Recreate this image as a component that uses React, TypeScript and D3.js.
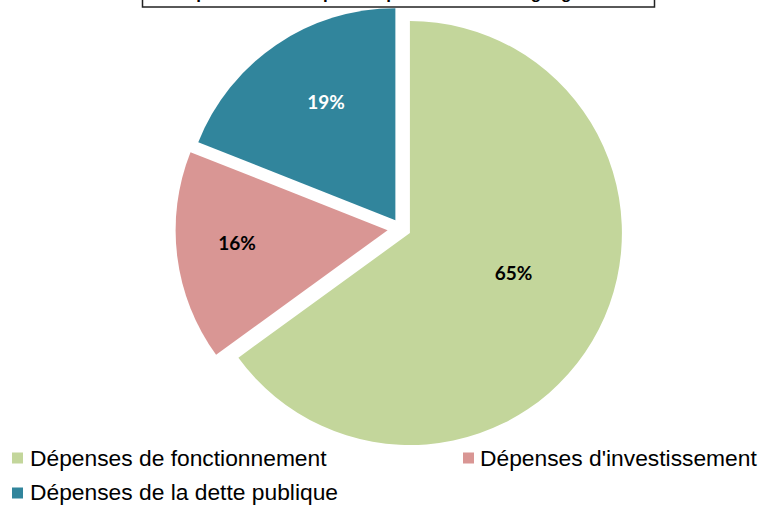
import React from "react";
import * as d3 from "d3";

const categories = ["Dépenses de fonctionnement", "Dépenses d'investissement", "Dépenses de la dette publique"];
const values = [65, 16, 19];
const labels = ["65%", "16%", "19%"];
const title = "Répartition des dépenses par nature du budget général";

const colors = ["#C3D69B", "#D99694", "#31859C"];
const labelColors = ["#000000", "#000000", "#FFFFFF"];
const explode = [10, 13.5, 10];
const labelFrac = [0.524, 0.714, 0.646];
const labelAngleShift = [-6, 1.4, 3.8];

const W = 764;
const H = 506;
const cx = 401;
const cy = 228.5;
const R = 212;

export default function App() {
  const pie = d3.pie<number>().value((d) => d).sort(null);
  const arcs = pie(values);
  const arc = d3.arc<d3.PieArcDatum<number>>().innerRadius(0).outerRadius(R);

  const legendItems = [
    { i: 0, x: 12, y: 452.5, tx: 30, by: 466 },
    { i: 1, x: 463, y: 452.5, tx: 480, by: 466 },
    { i: 2, x: 12, y: 487.5, tx: 30, by: 500 },
  ];

  const labelSize = 19;

  return (
    <svg width={W} height={H} style={{ position: "absolute", left: 0, top: 0 }}>
      <rect x={0} y={0} width={W} height={H} fill="#fff" />
      <rect x={142.5} y={-30} width={512} height={37} fill="#fff" stroke="#222" strokeWidth={1.5} />
      <text x={398} y={-1} textAnchor="middle" fontFamily="Liberation Sans, Arial" fontWeight="bold" fontSize={17} fill="#000">
        {title}
      </text>
      {arcs.map((a, i) => {
        const mid = (a.startAngle + a.endAngle) / 2;
        const ox = Math.sin(mid) * explode[i];
        const oy = -Math.cos(mid) * explode[i];
        const la = mid + (labelAngleShift[i] * Math.PI) / 180;
        const lr = R * labelFrac[i];
        const lx = Math.sin(la) * lr;
        const ly = -Math.cos(la) * lr;
        return (
          <g key={i} transform={`translate(${cx + ox},${cy + oy})`}>
            <path d={arc(a) || ""} fill={colors[i]} />
            <text
              x={lx}
              y={ly + labelSize * 0.36 - (i === 1 ? 2 : 0)}
              textAnchor="middle"
              fontFamily="Lato, 'Open Sans', sans-serif"
              fontWeight="bold"
              fontSize={labelSize}
              fill={labelColors[i]}
            >
              {labels[i]}
            </text>
          </g>
        );
      })}
      {legendItems.map(({ i, x, y, tx, by }) => (
        <g key={i}>
          <rect x={x} y={y} width={11} height={11} fill={colors[i]} />
          <text x={tx} y={by} fontFamily="Liberation Sans, Arial" fontSize={22.8} fill="#000">
            {categories[i]}
          </text>
        </g>
      ))}
    </svg>
  );
}
